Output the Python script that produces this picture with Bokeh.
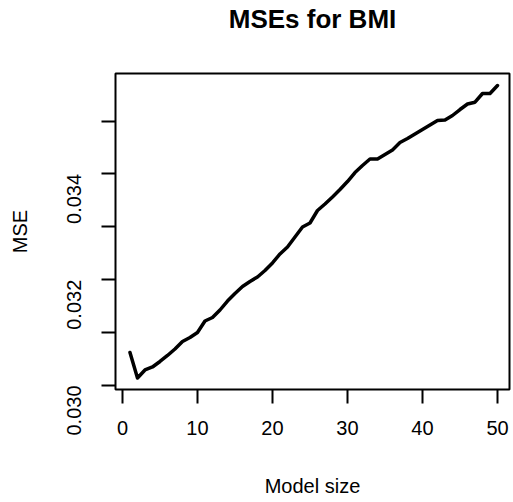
import math
from bokeh.plotting import figure
from bokeh.models import FixedTicker, PrintfTickFormatter
from bokeh.embed import file_html
from bokeh.resources import INLINE

model_size = list(range(1, 51))
mse = [0.030624, 0.030142, 0.030293, 0.030350, 0.030454, 0.030567, 0.030690, 0.030832, 0.030907, 0.031002,
       0.031219, 0.031285, 0.031427, 0.031597, 0.031739, 0.031871, 0.031966, 0.032051, 0.032174, 0.032316,
       0.032486, 0.032618, 0.032807, 0.032996, 0.033072, 0.033308, 0.033431, 0.033563, 0.033705, 0.033856,
       0.034026, 0.034159, 0.034282, 0.034282, 0.034367, 0.034452, 0.034594, 0.034669, 0.034754, 0.034839,
       0.034924, 0.035009, 0.035019, 0.035104, 0.035217, 0.035321, 0.035355, 0.035520, 0.035520, 0.035671]
x_ticks = [0, 10, 20, 30, 40, 50]
y_label_ticks = [0.030, 0.032, 0.034]
y_unlabeled_ticks = [0.031, 0.033, 0.035]

FONT = "Liberation Sans"

p = figure(width=513, height=502, output_backend="svg", toolbar_location=None,
           x_range=(-0.93, 51.6), y_range=(0.029924, 0.035898),
           min_border_left=115, min_border_right=4, min_border_top=73, min_border_bottom=113,
           title="MSEs for BMI")
p.background_fill_color = "white"
p.border_fill_color = "white"
p.grid.visible = False
p.outline_line_color = "black"
p.outline_line_width = 2

p.title.align = "center"
p.title.text_font = FONT
p.title.text_font_size = "26px"
p.title.text_font_style = "bold"
p.title.text_color = "black"
p.title.standoff = 0
p.title.padding = dict(left=0, right=0, top=0, bottom=40)

p.line(model_size, mse, line_width=3.5, color="black", line_join="round", line_cap="round")

p.xaxis.ticker = FixedTicker(ticks=x_ticks)
p.yaxis.ticker = FixedTicker(ticks=y_label_ticks, minor_ticks=y_unlabeled_ticks)
p.yaxis.formatter = PrintfTickFormatter(format="%.3f")
p.yaxis.major_label_orientation = math.pi / 2
p.xaxis.axis_label = "Model size"
p.yaxis.axis_label = "MSE"

for ax in (p.xaxis, p.yaxis):
    ax.axis_line_color = None
    ax.major_tick_in = 0
    ax.major_tick_out = 14
    ax.major_tick_line_width = 2
    ax.major_tick_line_color = "black"
    ax.minor_tick_in = 0
    ax.minor_tick_out = 14
    ax.minor_tick_line_width = 2
    ax.minor_tick_line_color = "black"
    ax.major_label_text_font = FONT
    ax.major_label_text_font_size = "20px"
    ax.major_label_text_color = "black"
    ax.axis_label_text_font = FONT
    ax.axis_label_text_font_size = "20px"
    ax.axis_label_text_font_style = "normal"
    ax.axis_label_text_color = "black"

p.xaxis.minor_tick_out = 0
p.xaxis.major_label_standoff = 17
p.xaxis.axis_label_standoff = 37
p.yaxis.major_label_standoff = 27
p.yaxis.axis_label_standoff = 27

open("out.html", "w").write(file_html(p, INLINE))
